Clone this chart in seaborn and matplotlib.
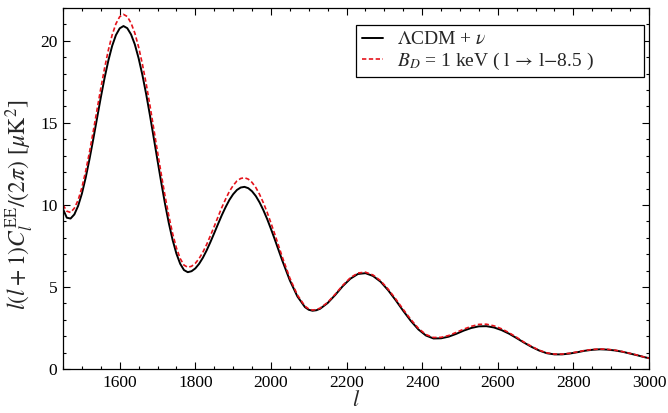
import numpy as np
import pandas as pd
import matplotlib
matplotlib.use("Agg")
import matplotlib.pyplot as plt
from matplotlib.ticker import MultipleLocator
import seaborn as sns

# multipole grid (finer around the first two acoustic peaks)
ell = [1450, 1460, 1470, 1480, 1490, 1500, 1510, 1520, 1530, 1540,
       1550, 1560, 1570, 1580, 1590, 1600, 1610, 1620, 1630, 1640,
       1650, 1660, 1670, 1680, 1690, 1700, 1710, 1720, 1730, 1740,
       1750, 1760, 1770, 1780, 1790, 1800, 1810, 1820, 1830, 1840,
       1850, 1860, 1870, 1880, 1890, 1900, 1910, 1920, 1930, 1940,
       1950, 1960, 1970, 1980, 1990, 2000,
       2010, 2030, 2050, 2070, 2090, 2100, 2110, 2120, 2130,
       2150, 2170, 2190, 2210, 2230, 2250, 2270, 2290, 2310, 2330,
       2350, 2370, 2390, 2410, 2430, 2450, 2470, 2490, 2510, 2530,
       2550, 2570, 2590, 2610, 2630, 2650, 2670, 2690, 2710, 2730,
       2750, 2770, 2790, 2810, 2830, 2850, 2870, 2890, 2910, 2930,
       2950, 2970, 2990, 3000]

# l(l+1) C_l^EE / 2pi  [muK^2], LCDM + nu
cl_lcdm = [9.75, 9.22, 9.17, 9.42, 9.94, 10.69, 11.66, 12.78, 14.00, 15.28,
           16.55, 17.74, 18.80, 19.69, 20.35, 20.76, 20.90, 20.77, 20.39, 19.78,
           18.94, 17.92, 16.75, 15.46, 14.09, 12.71, 11.35, 10.05, 8.88, 7.86,
           7.03, 6.41, 6.03, 5.90, 5.96, 6.13, 6.41, 6.78, 7.23, 7.74,
           8.28, 8.83, 9.37, 9.86, 10.30, 10.65, 10.91, 11.06, 11.10, 11.02,
           10.83, 10.54, 10.15, 9.68, 9.14, 8.54,
           7.91, 6.61, 5.40, 4.42, 3.77, 3.61, 3.55, 3.58, 3.67,
           4.02, 4.51, 5.05, 5.50, 5.79, 5.84, 5.67, 5.32, 4.80, 4.19,
           3.54, 2.93, 2.41, 2.04, 1.86, 1.87, 1.97, 2.14, 2.34, 2.50,
           2.60, 2.61, 2.53, 2.37, 2.15, 1.88, 1.60, 1.34, 1.12, 0.96,
           0.89, 0.89, 0.94, 1.02, 1.11, 1.17, 1.20, 1.18, 1.13, 1.05,
           0.94, 0.83, 0.71, 0.66]

# same spectrum with B_D = 1 keV (l -> l - 8.5)
cl_bd = [10.00, 9.62, 9.54, 9.80, 10.29, 11.06, 12.06, 13.21, 14.48, 15.80,
         17.11, 18.34, 19.44, 20.36, 21.04, 21.47, 21.61, 21.48, 21.08, 20.47,
         19.62, 18.58, 17.39, 16.06, 14.65, 13.24, 11.86, 10.53, 9.32, 8.25,
         7.38, 6.73, 6.33, 6.20, 6.26, 6.44, 6.73, 7.12, 7.59, 8.13,
         8.69, 9.27, 9.84, 10.35, 10.82, 11.18, 11.46, 11.61, 11.66, 11.57,
         11.37, 11.06, 10.64, 10.13, 9.55, 8.90,
         8.23, 6.83, 5.54, 4.51, 3.83, 3.66, 3.59, 3.62, 3.71,
         4.06, 4.56, 5.10, 5.56, 5.85, 5.90, 5.73, 5.38, 4.87, 4.27,
         3.63, 3.02, 2.48, 2.10, 1.92, 1.93, 2.04, 2.23, 2.43, 2.60,
         2.72, 2.73, 2.63, 2.45, 2.21, 1.93, 1.63, 1.37, 1.14, 0.98,
         0.91, 0.91, 0.96, 1.04, 1.13, 1.19, 1.22, 1.20, 1.15, 1.06,
         0.95, 0.84, 0.71, 0.66]

label_lcdm = r"$\Lambda$CDM + $\nu$"
label_bd = r"$B_D$ = 1 keV ( l $\!\rightarrow\!$ l$-$8.5 )"

sns.set_style("ticks")
plt.rcParams["font.family"] = ["Liberation Serif", "DejaVu Serif"]
plt.rcParams["mathtext.fontset"] = "stix"

fig = plt.figure(figsize=(6.68, 4.13), dpi=100)
ax = fig.add_axes([63 / 668, 1 - 369 / 413, (649 - 63) / 668, (369 - 8) / 413])

df_lcdm = pd.DataFrame({"l": ell, "cl": cl_lcdm})
df_bd = pd.DataFrame({"l": ell, "cl": cl_bd})

sns.lineplot(data=df_lcdm, x="l", y="cl", ax=ax, color="black", lw=1.4,
             label=label_lcdm)
sns.lineplot(data=df_bd, x="l", y="cl", ax=ax, color="#e5131b", lw=1.2,
             linestyle=(0, (2.6, 1.5)), label=label_bd)

ax.set_xlim(1450, 3000)
ax.set_ylim(0, 22)
ax.xaxis.set_major_locator(MultipleLocator(200))
ax.xaxis.set_minor_locator(MultipleLocator(50))
ax.yaxis.set_major_locator(MultipleLocator(5))
ax.yaxis.set_minor_locator(MultipleLocator(1))
ax.tick_params(which="both", direction="in", top=True, right=True,
               colors="black", width=0.8, labelsize=12.5, pad=4)
ax.tick_params(which="major", length=5)
ax.tick_params(which="minor", length=2.5)
for sp in ax.spines.values():
    sp.set_linewidth(0.9)
    sp.set_color("black")

ax.set_xlabel(r"$l$", fontsize=16, labelpad=0.5)
ax.set_ylabel(r"$l(l+1)C_l^{\mathrm{EE}}/(2\pi)$ [$\mu\mathrm{K}^2$]",
              fontsize=17)
ax.yaxis.set_label_coords(-0.046, 0.454)

leg = ax.legend(loc="upper left",
                bbox_to_anchor=(356 / 668, 1 - 75 / 413, 288 / 668, 50 / 413),
                bbox_transform=fig.transFigure, mode="expand",
                borderaxespad=0, fontsize=14, frameon=True, fancybox=False,
                handlelength=1.1, handletextpad=0.7, labelspacing=0.1,
                borderpad=0.3)
leg.get_frame().set_edgecolor("black")
leg.get_frame().set_linewidth(0.9)
leg.get_frame().set_alpha(1)

fig.savefig("out.png", dpi=100)
